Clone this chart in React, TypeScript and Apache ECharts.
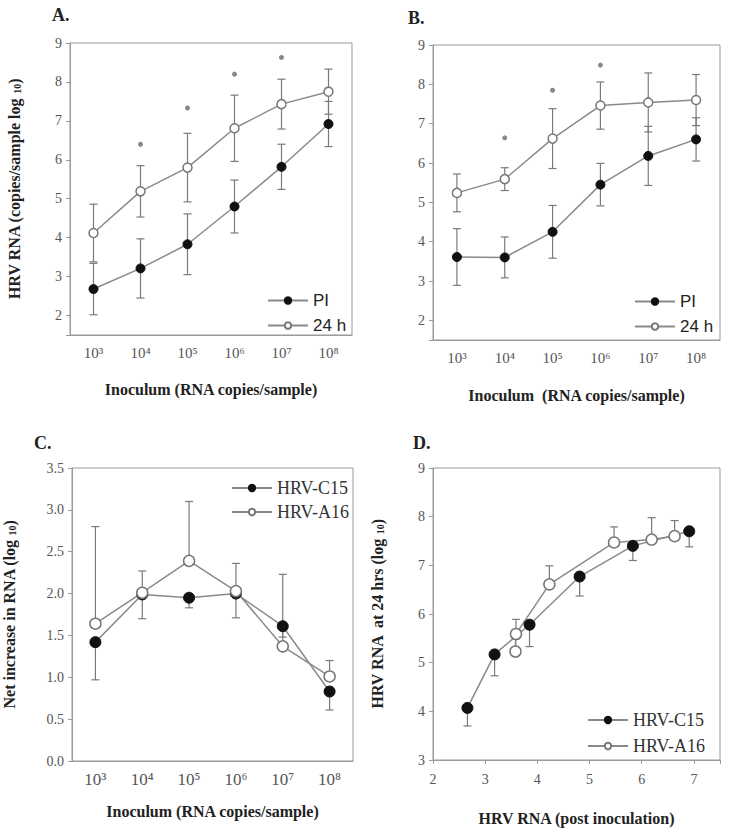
import React, { useEffect, useRef } from "react";
import * as echarts from "echarts";

// ---------- data ----------
const doseLabels = ["10³", "10⁴", "10⁵", "10⁶", "10⁷", "10⁸"];

// Panel A
const aPI = [2.68, 3.21, 3.83, 4.8, 5.82, 6.92];
const aPIErr = [0.66, 0.76, 0.78, 0.68, 0.58, 0.58];
const a24 = [4.12, 5.19, 5.8, 6.81, 7.43, 7.75];
const a24Err = [0.74, 0.66, 0.88, 0.85, 0.64, 0.58];
const aStar: (number | null)[] = [null, 6.4, 7.33, 8.2, 8.63, null];

// Panel B
const bPI = [3.61, 3.6, 4.25, 5.45, 6.18, 6.6];
const bPIErr = [0.72, 0.52, 0.67, 0.54, 0.75, 0.55];
const b24 = [5.24, 5.59, 6.62, 7.46, 7.54, 7.6];
const b24Err = [0.48, 0.29, 0.76, 0.6, 0.75, 0.65];
const bStar: (number | null)[] = [null, 6.64, 7.85, 8.49, null, null];

// Panel C (C15 bars drawn downward, A16 bars upward)
const cC15 = [1.42, 1.99, 1.95, 2.0, 1.61, 0.83];
const cC15Err = [0.45, 0.29, 0.12, 0.29, 0.13, 0.22];
const cA16 = [1.64, 2.01, 2.39, 2.03, 1.37, 1.01];
const cA16Err = [1.16, 0.26, 0.71, 0.33, 0.86, 0.19];

// Panel D
const dC15x = [2.66, 3.18, 3.85, 4.81, 5.83, 6.91];
const dC15y = [4.07, 5.17, 5.78, 6.77, 7.4, 7.7];
const dC15Err = [0.37, 0.44, 0.45, 0.4, 0.3, 0.32];
const dA16x = [3.58, 3.59, 4.23, 5.47, 6.19, 6.63];
const dA16y = [5.23, 5.59, 6.61, 7.47, 7.53, 7.6];
const dA16Err = [0.25, 0.3, 0.38, 0.32, 0.45, 0.32];

// ---------- styles ----------
const SERIF = "'Liberation Serif', 'Times New Roman', serif";
const SANS = "'Liberation Sans', Arial, sans-serif";
const FRAME = "#9a9a9a";
const LINE = "#8a8a8a";
const ERR = "#7a7a7a";
const LABEL = "#555";
const TITLE = "#222";

function errSeries(xi: number, yi: number, data: number[][]) {
  return {
    type: "custom",
    xAxisIndex: xi,
    yAxisIndex: yi,
    z: 1,
    silent: true,
    data,
    encode: { x: 0, y: [1, 2] },
    renderItem: (_p: any, api: any) => {
      const x = api.value(0);
      const from = api.coord([x, api.value(1)]);
      const to = api.coord([x, api.value(2)]);
      const w = 4;
      const style = { stroke: ERR, lineWidth: 1.2, fill: null };
      return {
        type: "group",
        children: [
          { type: "line", shape: { x1: from[0], y1: from[1], x2: to[0], y2: to[1] }, style },
          { type: "line", shape: { x1: to[0] - w, y1: to[1], x2: to[0] + w, y2: to[1] }, style },
        ],
      };
    },
  };
}

function symErr(vals: number[], errs: number[]) {
  const out: number[][] = [];
  vals.forEach((v, i) => {
    out.push([i, v, v - errs[i]]);
    out.push([i, v, v + errs[i]]);
  });
  return out;
}
function dirErr(xs: number[], vals: number[], errs: number[], dir: number) {
  return vals.map((v, i) => [xs[i], v, v + dir * errs[i]]);
}

function lineSeries(name: string, xi: number, yi: number, data: any[], filled: boolean, size: number) {
  return {
    type: "line",
    name,
    xAxisIndex: xi,
    yAxisIndex: yi,
    data,
    z: 3,
    symbol: "circle",
    symbolSize: size,
    showAllSymbol: true,
    lineStyle: { color: LINE, width: 1.5 },
    itemStyle: filled
      ? { color: "#111", borderColor: "#111", borderWidth: 1 }
      : { color: "#fff", borderColor: "#777", borderWidth: 1.5 },
  };
}

function starSeries(xi: number, yi: number, vals: (number | null)[]) {
  const data: number[][] = [];
  vals.forEach((v, i) => {
    if (v != null) data.push([i, v]);
  });
  return {
    type: "scatter",
    xAxisIndex: xi,
    yAxisIndex: yi,
    data,
    symbol: "circle",
    symbolSize: 5,
    itemStyle: { color: "#6a6a6a" },
    z: 2,
  };
}

function catX(gi: number, name: string, labelSize: number, nameGap: number) {
  return {
    type: "category",
    gridIndex: gi,
    data: doseLabels,
    boundaryGap: true,
    axisLine: { lineStyle: { color: FRAME, width: 1 } },
    axisTick: { alignWithLabel: true, length: 4, lineStyle: { color: FRAME } },
    axisLabel: { interval: 0, fontFamily: SERIF, fontSize: labelSize, color: LABEL, margin: 10 },
    splitLine: { show: false },
    name,
    nameLocation: "middle",
    nameGap,
    nameTextStyle: { fontFamily: SERIF, fontWeight: "bold", fontSize: 16, color: TITLE },
  };
}

function valY(gi: number, min: number, max: number, name: any, nameGap: number, fmt: (v: number) => string, interval?: number) {
  const ax: any = {
    type: "value",
    gridIndex: gi,
    min,
    max,
    splitNumber: 7,
    axisLine: { show: true, lineStyle: { color: FRAME, width: 1 } },
    axisTick: { show: true, length: 4, lineStyle: { color: FRAME } },
    axisLabel: { fontFamily: SERIF, fontSize: 14, color: LABEL, margin: 8, formatter: fmt },
    splitLine: { show: false },
    name,
    nameLocation: "middle",
    nameGap,
    nameTextStyle: {
      fontFamily: SERIF,
      fontWeight: "bold",
      fontSize: 16,
      color: TITLE,
      rich: {
        b: { fontFamily: SERIF, fontWeight: "bold", fontSize: 16, color: TITLE },
        s: { fontFamily: SERIF, fontWeight: "bold", fontSize: 10, color: TITLE, verticalAlign: "bottom" },
      },
    },
  };
  if (interval) ax.interval = interval;
  return ax;
}

const intFmt = (v: number) => (Math.abs(v - Math.round(v)) < 1e-6 ? String(Math.round(v)) : "");
const halfFmt = (v: number) => v.toFixed(1);

export default function App() {
  const ref = useRef<HTMLDivElement>(null);
  useEffect(() => {
    document.body.style.margin = "0";
    if (!ref.current) return;
    const chart = echarts.init(ref.current, null, { renderer: "svg" });

    const legendBase = {
      orient: "vertical",
      itemWidth: 40,
      itemHeight: 8,
      itemGap: 8,
      selectedMode: false,
    };

    const option: any = {
      animation: false,
      backgroundColor: "#fff",
      grid: [
        { left: 70, top: 43, width: 282, height: 292, show: true, borderColor: FRAME, borderWidth: 1, backgroundColor: "transparent" },
        { left: 433, top: 45, width: 287, height: 295, show: true, borderColor: FRAME, borderWidth: 1, backgroundColor: "transparent" },
        { left: 70, top: 468, width: 283, height: 293, show: true, borderColor: FRAME, borderWidth: 1, backgroundColor: "transparent" },
        { left: 433, top: 468, width: 287, height: 292, show: true, borderColor: FRAME, borderWidth: 1, backgroundColor: "transparent" },
      ],
      xAxis: [
        catX(0, "Inoculum (RNA copies/sample)", 15, 46),
        catX(1, "Inoculum  (RNA copies/sample)", 15, 47),
        catX(2, "Inoculum (RNA copies/sample)", 17, 42),
        {
          type: "value",
          gridIndex: 3,
          min: 2,
          max: 7.5,
          interval: 1,
          axisLine: { lineStyle: { color: FRAME, width: 1 } },
          axisTick: { length: 4, lineStyle: { color: FRAME } },
          axisLabel: { fontFamily: SERIF, fontSize: 14, color: LABEL, margin: 12, formatter: intFmt },
          splitLine: { show: false },
          name: "HRV RNA (post inoculation)",
          nameLocation: "middle",
          nameGap: 50,
          nameTextStyle: { fontFamily: SERIF, fontWeight: "bold", fontSize: 16, color: TITLE },
        },
      ],
      yAxis: [
        valY(0, 1.5, 9, "{b|HRV RNA (copies/sample log }{s|10}{b|)}", 48, intFmt),
        valY(1, 1.5, 9, "", 40, intFmt),
        valY(2, 0, 3.5, "{b|Net increase in RNA (log }{s|10}{b|)}", 55, halfFmt, 0.5),
        valY(3, 3, 9, "{b|HRV RNA  at 24 hrs (log }{s|10}{b|)}", 48, intFmt, 1),
      ],
      legend: [
        { ...legendBase, data: ["PI", "24 h"], left: 262, top: 287, textStyle: { fontFamily: SANS, fontSize: 17, color: "#222" } },
        { ...legendBase, data: ["PI", "24 h"], left: 629, top: 288, textStyle: { fontFamily: SANS, fontSize: 17, color: "#222" } },
        { ...legendBase, data: ["HRV-C15", "HRV-A16"], left: 226, top: 474, itemGap: 6, textStyle: { fontFamily: SERIF, fontSize: 18, color: "#333" } },
        { ...legendBase, data: ["HRV-C15", "HRV-A16"], left: 582, top: 706, textStyle: { fontFamily: SERIF, fontSize: 18, color: "#333" } },
      ],
      graphic: [
        { type: "text", left: 52, top: 6, style: { text: "A.", font: `bold 18px ${SERIF}`, fill: "#222" } },
        { type: "text", left: 408, top: 9, style: { text: "B.", font: `bold 18px ${SERIF}`, fill: "#222" } },
        { type: "text", left: 34, top: 434, style: { text: "C.", font: `bold 18px ${SERIF}`, fill: "#222" } },
        { type: "text", left: 413, top: 434, style: { text: "D.", font: `bold 18px ${SERIF}`, fill: "#222" } },
      ],
      series: [
        // Panel A
        errSeries(0, 0, symErr(aPI, aPIErr)),
        errSeries(0, 0, symErr(a24, a24Err)),
        lineSeries("PI", 0, 0, aPI, true, 9),
        lineSeries("24 h", 0, 0, a24, false, 9),
        starSeries(0, 0, aStar),
        // Panel B
        errSeries(1, 1, symErr(bPI, bPIErr)),
        errSeries(1, 1, symErr(b24, b24Err)),
        lineSeries("PI", 1, 1, bPI, true, 9),
        lineSeries("24 h", 1, 1, b24, false, 9),
        starSeries(1, 1, bStar),
        // Panel C
        errSeries(2, 2, dirErr([0, 1, 2, 3, 4, 5], cC15, cC15Err, -1)),
        errSeries(2, 2, dirErr([0, 1, 2, 3, 4, 5], cA16, cA16Err, 1)),
        lineSeries("HRV-C15", 2, 2, cC15, true, 11),
        lineSeries("HRV-A16", 2, 2, cA16, false, 11),
        // Panel D
        errSeries(3, 3, dirErr(dC15x, dC15y, dC15Err, -1)),
        errSeries(3, 3, dirErr(dA16x, dA16y, dA16Err, 1)),
        lineSeries("HRV-C15", 3, 3, dC15x.map((x, i) => [x, dC15y[i]]), true, 11),
        lineSeries("HRV-A16", 3, 3, dA16x.map((x, i) => [x, dA16y[i]]), false, 11),
      ],
    };
    chart.setOption(option);
    return () => chart.dispose();
  }, []);
  return <div ref={ref} style={{ width: 735, height: 835 }} />;
}
